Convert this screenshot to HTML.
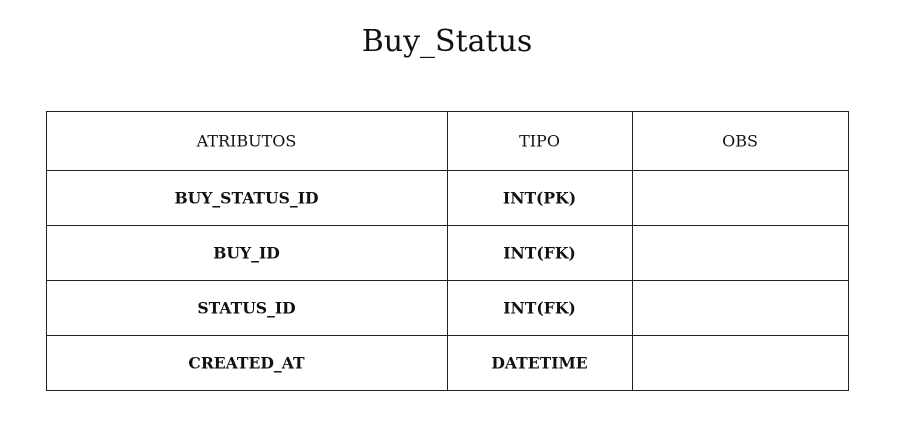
<!DOCTYPE html>
<html><head><meta charset="utf-8"><style>
body{margin:0;width:904px;height:425px;background:#fff;position:relative;overflow:hidden;font-family:"DejaVu Serif","Liberation Serif",serif;color:#111}
.t{position:absolute;left:0;width:894px;top:24px;text-align:center;font-size:30px;font-family:"DejaVu Serif",serif;}
.h{position:absolute;background:#222;height:1px}
.v{position:absolute;background:#222;width:1px}
.c{position:absolute;text-align:center;font-size:16px;transform:translateY(-50%)}
.b{font-weight:bold;font-size:15.6px}
</style></head><body>
<div class="t">Buy_Status</div>
<div>
<div class="h" style="left:46px;width:803px;top:111px"></div>
<div class="h" style="left:46px;width:803px;top:170px"></div>
<div class="h" style="left:46px;width:803px;top:225px"></div>
<div class="h" style="left:46px;width:803px;top:280px"></div>
<div class="h" style="left:46px;width:803px;top:335px"></div>
<div class="h" style="left:46px;width:803px;top:390px"></div>
<div class="v" style="left:46px;top:111px;height:280px"></div>
<div class="v" style="left:447px;top:111px;height:280px"></div>
<div class="v" style="left:632px;top:111px;height:280px"></div>
<div class="v" style="left:848px;top:111px;height:280px"></div>

<div class="c" style="left:46px;width:401px;top:141px">ATRIBUTOS</div>
<div class="c" style="left:447px;width:185px;top:141px">TIPO</div>
<div class="c" style="left:632px;width:216px;top:141px">OBS</div>

<div class="c b" style="left:46px;width:401px;top:198px">BUY_STATUS_ID</div>
<div class="c b" style="left:447px;width:185px;top:198px">INT(PK)</div>
<div class="c b" style="left:46px;width:401px;top:253px">BUY_ID</div>
<div class="c b" style="left:447px;width:185px;top:253px">INT(FK)</div>
<div class="c b" style="left:46px;width:401px;top:308px">STATUS_ID</div>
<div class="c b" style="left:447px;width:185px;top:308px">INT(FK)</div>
<div class="c b" style="left:46px;width:401px;top:363px">CREATED_AT</div>
<div class="c b" style="left:447px;width:185px;top:363px">DATETIME</div>
</div>
</body></html>
